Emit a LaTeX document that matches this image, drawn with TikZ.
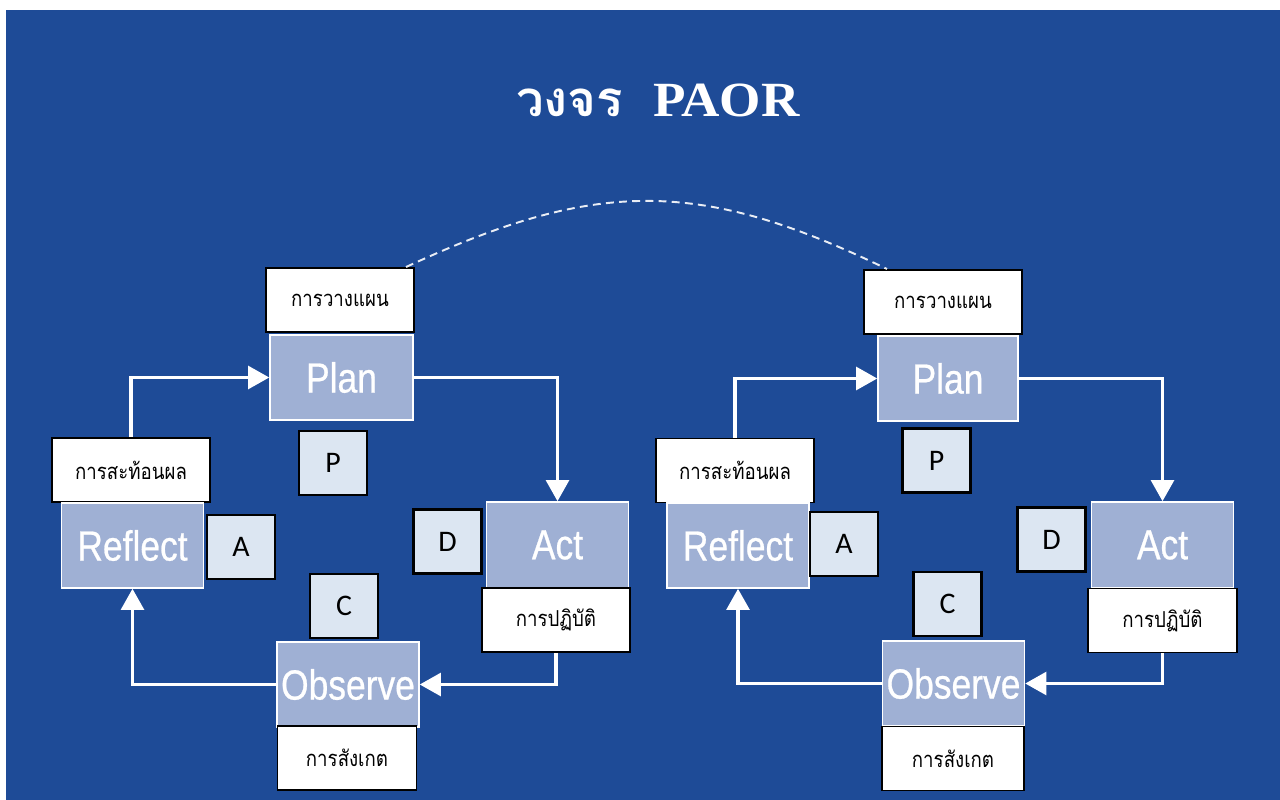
\documentclass[tikz,border=0pt]{standalone}
\usepackage{fontspec}
\setmainfont{Liberation Sans}
\newfontfamily\thaifont[Script=Thai, FakeStretch=0.85]{Loma}
\newfontfamily\titlethai[Script=Thai]{Loma}
\newfontfamily\stagefont[FakeStretch=0.84, FakeBold=0.6]{Liberation Sans}
\newfontfamily\letterfont{Carlito}
\newfontfamily\titlelatin[FakeStretch=1.08]{Liberation Serif}
\usetikzlibrary{arrows.meta, positioning}
\definecolor{bgblue}{RGB}{30, 75, 151}
\definecolor{stagefill}{RGB}{159, 176, 212}
\definecolor{letterfill}{RGB}{220, 230, 242}

\begin{document}
\begin{tikzpicture}[
    x=0.02cm, y=-0.02cm,
    stage/.style={rectangle, draw=white, line width=0.9pt, fill=stagefill, text=white, minimum width=2.84cm, minimum height=1.7cm, inner sep=0pt, font=\stagefont\fontsize{24}{26}\selectfont},
    thailabel/.style={rectangle, draw=black, line width=1.1pt, fill=white, minimum height=1.28cm, inner sep=0pt, font=\thaifont\fontsize{12.5}{14}\selectfont},
    letter/.style={rectangle, draw=black, line width=1.2pt, fill=letterfill, minimum width=1.36cm, minimum height=1.28cm, inner sep=0pt, font=\letterfont\fontsize{17}{20}\selectfont},
    flow/.style={draw=white, line width=1.8pt, -{Triangle[length=12pt, width=13pt]}}
]

% Background
\useasboundingbox (0,0) rectangle (1280,800);
\fill [bgblue] (6,10) rectangle (1280,800);

% Title
\node (title) [text=white, font=\fontsize{28}{32}\selectfont] at (658,100) {\titlethai\bfseries วงจร\hspace{17pt}\titlelatin\bfseries PAOR};

% Left cycle
\node (plan_l_lbl) [thailabel, minimum width=2.96cm] at (340,300) {การวางแผน};
\node (plan_l) [stage, minimum width=2.86cm] at (341.5,377.5) {Plan};
\node (p_l) [letter] at (333,463) {P};
\node (reflect_l_lbl) [thailabel, minimum width=3.16cm] at (131,470) {การสะท้อนผล};
\node (reflect_l) [stage] at (132.5,545.5) {Reflect};
\node (a_l) [letter] at (241,547) {A};
\node (d_l) [letter] at (447.5,541.5) {D};
\node (act_l) [stage, minimum height=1.72cm] at (557.5,545) {Act};
\node (act_l_lbl) [thailabel, minimum width=2.96cm] at (556,620) {การปฏิบัติ};
\node (c_l) [letter] at (344,606) {C};
\node (observe_l) [stage] at (348,684.5) {Observe};
\node (observe_l_lbl) [thailabel, minimum width=2.78cm] at (347,758) {การสังเกต};

% Right cycle
\node (plan_r_lbl) [thailabel, minimum width=3.16cm] at (943,302) {การวางแผน};
\node (plan_r) [stage, minimum width=2.8cm] at (948,378.5) {Plan};
\node (p_r) [letter] at (936.5,460.5) {P};
\node (reflect_r_lbl) [thailabel, minimum width=3.16cm] at (735,470.5) {การสะท้อนผล};
\node (reflect_r) [stage] at (738,545.5) {Reflect};
\node (a_r) [letter] at (844,544) {A};
\node (d_r) [letter] at (1051.5,539.5) {D};
\node (act_r) [stage, minimum height=1.72cm] at (1162.5,545) {Act};
\node (act_r_lbl) [thailabel, minimum width=2.98cm] at (1162.5,620.5) {การปฏิบัติ};
\node (c_r) [letter] at (947.5,604) {C};
\node (observe_r) [stage] at (953.5,683.5) {Observe};
\node (observe_r_lbl) [thailabel, minimum width=2.84cm] at (953,758.5) {การสังเกต};

% Flow arrows
\draw [flow] (reflect_l_lbl.north) |- (plan_l.west);
\draw [flow] (plan_l.east) -| (act_l.north);
\draw [flow] (act_l_lbl.south) |- (observe_l.east);
\draw [flow] (observe_l.west) -| (reflect_l.south);

\draw [flow] (reflect_r_lbl.north) |- (plan_r.west);
\draw [flow] (plan_r.east) -| (act_r.north);
\draw [flow] (act_r_lbl.south) |- (observe_r.east);
\draw [flow] (observe_r.west) -| (reflect_r.south);

% Link between the two cycles
\draw [white!90!bgblue, line width=1.1pt, dash pattern=on 4.5pt off 3pt]
    ([xshift=-0.18cm]plan_l_lbl.north east) .. controls +(190,-88) and +(-188,-91) .. ([xshift=0.48cm]plan_r_lbl.north west);

\end{tikzpicture}
\end{document}
